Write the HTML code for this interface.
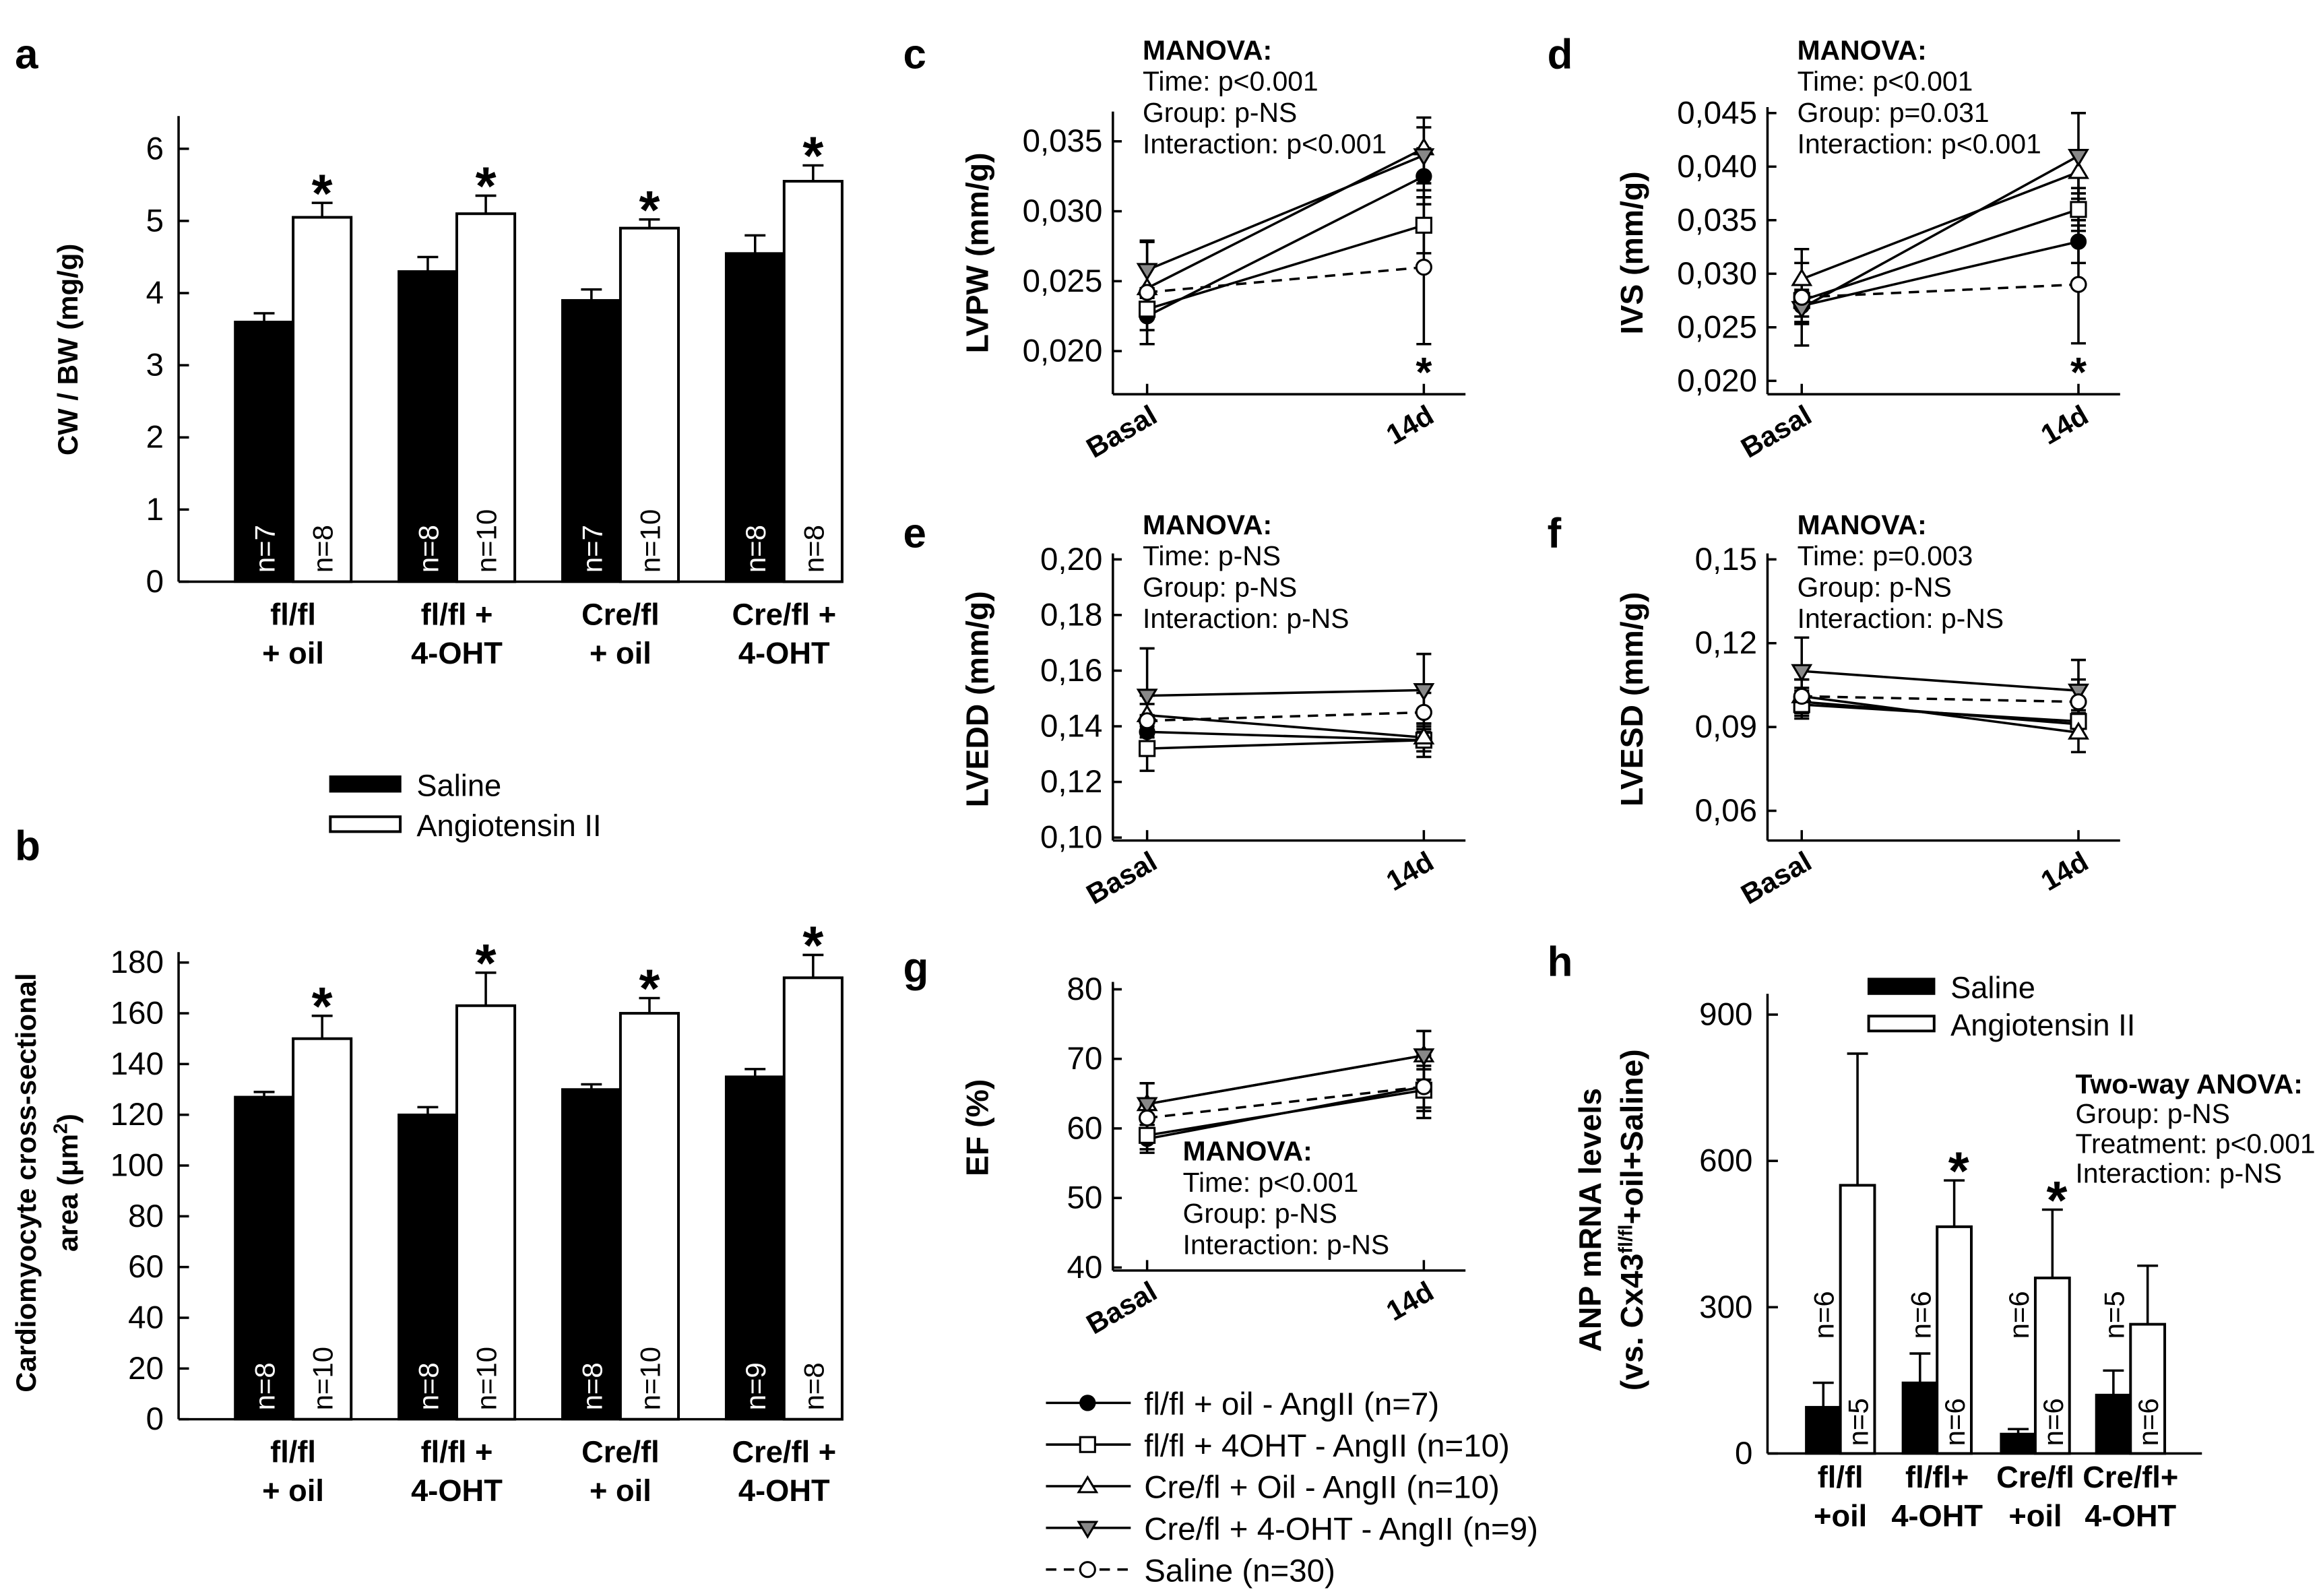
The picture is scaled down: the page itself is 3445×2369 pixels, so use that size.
<!DOCTYPE html>
<html><head><meta charset="utf-8"><style>
html,body{margin:0;padding:0;background:#fff}
svg{display:block}
text{font-family:"Liberation Sans",Arial,sans-serif;fill:#000}
.tk{font-size:19px}
.tk2{font-size:21.5px}
.tt{font-size:19px;font-weight:bold}
.tt2{font-size:21px;font-weight:bold}
.lt{font-size:18.5px}
.lg{font-size:21.5px}
.pl{font-size:28px;font-weight:bold}
</style></head><body>
<svg id="fig" xmlns="http://www.w3.org/2000/svg" width="3445" height="2369" viewBox="0 0 1560 1072.8">
<rect width="1560" height="1073" fill="#fff"/>
<g id="root"></g>
</svg>
<script>
// ---- data: panel a ----
const groupsA = ["fl/fl|+ oil","fl/fl +|4-OHT","Cre/fl|+ oil","Cre/fl +|4-OHT"];
const salineA = [3.6,4.3,3.9,4.55];
const salineAErr = [0.12,0.2,0.15,0.25];
const angA = [5.05,5.1,4.9,5.55];
const angAErr = [0.2,0.25,0.12,0.22];
const nSalA = ["n=7","n=8","n=7","n=8"];
const nAngA = ["n=8","n=10","n=10","n=8"];
const ticksA = [0,1,2,3,4,5,6];
// ---- panel b ----
const salineB = [127,120,130,135];
const salineBErr = [2,3,2,3];
const angB = [150,163,160,174];
const angBErr = [9,13,6,9];
const nSalB = ["n=8","n=8","n=8","n=9"];
const nAngB = ["n=10","n=10","n=10","n=8"];
const ticksB = [0,20,40,60,80,100,120,140,160,180];
// ---- line panels: [basal, 14d] per series: filled, square, triUp, triDown, open ----
const timeLabels = ["Basal","14d"];
const lvpw = [[0.0225,0.0325],[0.023,0.029],[0.0245,0.0345],[0.0258,0.034],[0.0242,0.026]];
const lvpwErr = [[0.002,0.002],[0.0015,0.002],[0.0015,0.0022],[0.002,0.002],[0.0037,0.0055]];
const lvpwTicks = [0.020,0.025,0.030,0.035];
const ivs = [[0.027,0.033],[0.0275,0.036],[0.0295,0.0395],[0.0268,0.041],[0.0278,0.029]];
const ivsErr = [[0.0015,0.002],[0.0015,0.002],[0.0015,0.002],[0.0015,0.004],[0.0045,0.0055]];
const ivsTicks = [0.020,0.025,0.030,0.035,0.040,0.045];
const lvedd = [[0.138,0.135],[0.132,0.135],[0.144,0.136],[0.151,0.153],[0.142,0.145]];
const lveddErr = [[0.006,0.004],[0.008,0.006],[0.007,0.005],[0.017,0.013],[0.006,0.007]];
const lveddTicks = [0.10,0.12,0.14,0.16,0.18,0.20];
const lvesd = [[0.099,0.091],[0.098,0.092],[0.101,0.088],[0.110,0.103],[0.101,0.099]];
const lvesdErr = [[0.005,0.005],[0.005,0.006],[0.006,0.007],[0.012,0.011],[0.006,0.008]];
const lvesdTicks = [0.06,0.09,0.12,0.15];
const ef = [[58.5,66],[59,65.5],[63.5,70.5],[63.5,70.5],[61.5,66]];
const efErr = [[2,3],[2,3],[3,3.5],[3,3.5],[2,4.5]];
const efTicks = [40,50,60,70,80];
// ---- panel h ----
const groupsH = ["fl/fl|+oil","fl/fl+|4-OHT","Cre/fl|+oil","Cre/fl+|4-OHT"];
const salineH = [95,145,40,120];
const salineHErr = [50,60,10,50];
const angH = [550,465,360,265];
const angHErr = [270,95,140,120];
const nSalH = ["n=6","n=6","n=6","n=5"];
const nAngH = ["n=5","n=6","n=6","n=6"];
const ticksH = [0,300,600,900];

const NS="http://www.w3.org/2000/svg";
const root=document.getElementById('root');
function el(tag,attrs,parent,txt){const e=document.createElementNS(NS,tag);for(const k in attrs)e.setAttribute(k,attrs[k]);if(txt!==undefined)e.textContent=txt;(parent||root).appendChild(e);return e;}
function line(x1,y1,x2,y2,p,dash){const e=el('line',{x1,y1,x2,y2,stroke:'#000','stroke-width':1.6},p);if(dash)e.setAttribute('stroke-dasharray',dash);return e;}
function fmt(v,d){return v.toFixed(d).replace('.',',');}

[["a",10,46],["b",10,578],["c",607,46],["d",1040,46],["e",607,368],["f",1040,368],["g",607,660],["h",1040,656]].forEach(p=>{
 const t=el('text',{x:p[1],y:p[2],class:'pl'},root,p[0]);
 
 
});

function barPanel(o){
 const g=el('g',{});
 
 
 const y=v=>o.y0-(v-o.ymin)/(o.ymax-o.ymin)*(o.y0-o.y1);
 line(o.ax,o.top,o.ax,o.y0,g);
 line(o.ax,o.y0,o.xend,o.y0,g);
 o.ticks.forEach(t=>{line(o.ax,y(t),o.ax+7,y(t),g);const tx=el('text',{x:o.ax-10,y:y(t)+7,'text-anchor':'end',class:o.tkc||'tk'},g,String(t));});
 o.centers.forEach((c,i)=>{
  const bs=el('rect',{x:c-o.bw,y:y(o.sal[i]),width:o.bw,height:o.y0-y(o.sal[i]),fill:'#000',stroke:'#000','stroke-width':1.6},g);
  
  
  line(c-o.bw/2,y(o.sal[i]),c-o.bw/2,y(o.sal[i]+o.salE[i]),g);
  line(c-o.bw/2-7,y(o.sal[i]+o.salE[i]),c-o.bw/2+7,y(o.sal[i]+o.salE[i]),g);
  const ba=el('rect',{x:c,y:y(o.ang[i]),width:o.bw,height:o.y0-y(o.ang[i]),fill:'#fff',stroke:'#000','stroke-width':1.8},g);
  
  
  line(c+o.bw/2,y(o.ang[i]),c+o.bw/2,y(o.ang[i]+o.angE[i]),g);
  line(c+o.bw/2-7,y(o.ang[i]+o.angE[i]),c+o.bw/2+7,y(o.ang[i]+o.angE[i]),g);
  if(o.star[i]){const s=el('text',{x:c+o.bw/2+(o.starDx||0),y:y(o.ang[i]+o.angE[i])-(o.starGap||4)+26,'text-anchor':'middle',style:'font-size:36px;font-weight:bold'},g,'*');}
  const nx1=c-o.bw/2+7,nx2=c+o.bw/2+7;
  const n1=el('text',{x:0,y:0,class:'tk',transform:`translate(${nx1},${o.nSalY}) rotate(-90)`,style:`fill:${o.nSalCol}`},g,o.nSal[i]);
  
  const n2=el('text',{x:0,y:0,class:'tk',transform:`translate(${nx2},${o.nAngY}) rotate(-90)`},g,o.nAng[i]);
  
  const parts=o.groups[i].split('|');
  parts.forEach((p,j)=>{const t=el('text',{x:c,y:o.labY+j*26,'text-anchor':'middle',class:'tt',style:'font-size:20.5px'},g,p);});
 });
 return g;
}

barPanel({name:'panel-a-chart',ax:120,top:78,y0:391,y1:100,ymin:0,ymax:6,xend:566,ticks:ticksA,centers:[197,307,417,527],bw:39,
 sal:salineA,salE:salineAErr,ang:angA,angE:angAErr,star:[1,1,1,1],nSal:nSalA,nAng:nAngA,nSalY:385,nAngY:385,nSalCol:'#fff',groups:groupsA,labY:420,starGap:20,tkc:'tk2'});
barPanel({name:'panel-b-chart',ax:120,top:640,y0:954,y1:647,ymin:0,ymax:180,xend:566,ticks:ticksB,centers:[197,307,417,527],bw:39,
 sal:salineB,salE:salineBErr,ang:angB,angE:angBErr,star:[1,1,1,1],nSal:nSalB,nAng:nAngB,nSalY:948,nAngY:948,nSalCol:'#fff',groups:groupsA,labY:983,starGap:20,tkc:'tk2'});
barPanel({name:'panel-h-chart',ax:1188,top:668,y0:977,y1:682,ymin:0,ymax:900,xend:1480,ticks:ticksH,centers:[1237,1302,1368,1432],bw:23,
 sal:salineH,salE:salineHErr,ang:angH,angE:angHErr,star:[0,1,1,0],nSal:nSalH,nAng:nAngH,nSalY:900,nAngY:972,nSalCol:'#000',groups:groupsH,labY:1000,starGap:20,starDx:3,tkc:'tk2'});

function vtext(x,y,s,name,cls){const t=el('text',{x:0,y:0,class:cls||'tt2','text-anchor':'middle',transform:`translate(${x},${y}) rotate(-90)`},root,s);return t;}
vtext(52,235,'CW / BW (mg/g)','y-axis-title-a','tt');
vtext(24,795,'Cardiomyocyte cross-sectional','y-axis-title-b','tt');
(function(){const t=el('text',{x:0,y:0,class:'tt','text-anchor':'middle',transform:'translate(52,795) rotate(-90)'},root);
 el('tspan',{},t,'area (μm');el('tspan',{dy:-7,style:'font-size:13px'},t,'2');el('tspan',{dy:7},t,')');})();
vtext(664,170,'LVPW (mm/g)','y-axis-title-c');
vtext(1104,170,'IVS (mm/g)','y-axis-title-d');
vtext(664,470,'LVEDD (mm/g)','y-axis-title-e');
vtext(1104,470,'LVESD (mm/g)','y-axis-title-f');
vtext(664,758,'EF (%)','y-axis-title-g');
vtext(1076,820,'ANP mRNA levels','y-axis-title-h');
(function(){const t=el('text',{x:0,y:0,class:'tt2','text-anchor':'middle',transform:'translate(1104,820) rotate(-90)'},root);
 el('tspan',{},t,'(vs. Cx43');el('tspan',{dy:-7,style:'font-size:13px'},t,'fl/fl');el('tspan',{dy:7},t,'+oil+Saline)');})();

function barLegend(x,y1,y2,w,h,name){
 const g=el('g',{});
 el('rect',{x,y:y1,width:w,height:h,fill:'#000',stroke:'#000','stroke-width':1.5},g);
 el('rect',{x,y:y2,width:w,height:h,fill:'#fff',stroke:'#000','stroke-width':1.8},g);
 el('text',{x:x+w+11,y:y1+h+3,class:'lt',style:'font-size:20.5px'},g,'Saline');
 el('text',{x:x+w+11,y:y2+h+3,class:'lt',style:'font-size:20.5px'},g,'Angiotensin II');
}
barLegend(222,522,549,47,10,'legend-a-b');
barLegend(1256,658,683,44,10,'legend-h');

function block(x,y,lines,dy,name){const g=el('g',{});
 lines.forEach((s,i)=>el('text',{x,y:y+i*dy,class:'lt',style:i==0?'font-weight:bold':''},g,s));}
block(768,40,['MANOVA:','Time: p<0.001','Group: p-NS','Interaction: p<0.001'],21,'stats-c');
block(1208,40,['MANOVA:','Time: p<0.001','Group: p=0.031','Interaction: p<0.001'],21,'stats-d');
block(768,359,['MANOVA:','Time: p-NS','Group: p-NS','Interaction: p-NS'],21,'stats-e');
block(1208,359,['MANOVA:','Time: p=0.003','Group: p-NS','Interaction: p-NS'],21,'stats-f');
block(795,780,['MANOVA:','Time: p<0.001','Group: p-NS','Interaction: p-NS'],21,'stats-g');
block(1395,735,['Two-way ANOVA:','Group: p-NS','Treatment: p<0.001','Interaction: p-NS'],20,'stats-h');

function marker(g,type,x,y){
 const r=5;
 if(type==0) el('circle',{cx:x,cy:y,r:r,fill:'#000',stroke:'#000'},g);
 else if(type==1) el('rect',{x:x-r,y:y-r,width:2*r,height:2*r,fill:'#fff',stroke:'#000','stroke-width':1.4},g);
 else if(type==2) el('polygon',{points:`${x},${y-6} ${x-6},${y+4} ${x+6},${y+4}`,fill:'#fff',stroke:'#000','stroke-width':1.4},g);
 else if(type==3) el('polygon',{points:`${x},${y+6} ${x-6},${y-4} ${x+6},${y-4}`,fill:'#888',stroke:'#000','stroke-width':1.4},g);
 else el('circle',{cx:x,cy:y,r:r,fill:'#fff',stroke:'#000','stroke-width':1.4},g);
}

function linePanel(o){
 const g=el('g',{});
 const y=v=>o.y0-(v-o.ymin)/(o.ymax-o.ymin)*(o.y0-o.y1);
 const xs=[o.ax+23,o.ax+209];
 line(o.ax,o.top,o.ax,o.bot,g);
 line(o.ax,o.bot,o.ax+237,o.bot,g);
 o.ticks.forEach(t=>{line(o.ax,y(t),o.ax+6,y(t),g);const tx=el('text',{x:o.ax-7,y:y(t)+7,'text-anchor':'end',class:'tk2'},g,o.dec==null?String(t):fmt(t,o.dec));});
 xs.forEach((x,i)=>{line(x,o.bot,x,o.bot-7,g);const t=el('text',{x:0,y:0,class:'tt','text-anchor':'end',transform:`translate(${x+8},${o.bot+18}) rotate(-30)`},g,timeLabels[i]);});
 o.data.forEach((s,k)=>{
  const sg=el('g',{},g);
  line(xs[0],y(s[0]),xs[1],y(s[1]),sg,k==4?'7,5':null);
  s.forEach((v,i)=>{const e=o.err[k][i];line(xs[i],y(v-e),xs[i],y(v+e),sg);line(xs[i]-5,y(v+e),xs[i]+5,y(v+e),sg);line(xs[i]-5,y(v-e),xs[i]+5,y(v-e),sg);});
 });
 o.data.forEach((s,k)=>s.forEach((v,i)=>marker(g,k,xs[i],y(v))));
 if(o.star){const s=el('text',{x:xs[1],y:o.starY,'text-anchor':'middle',style:'font-size:28px;font-weight:bold'},g,'*');}
}
linePanel({name:'panel-c-chart',ax:748,top:75,bot:265,y0:236,y1:95,ymin:0.020,ymax:0.035,ticks:lvpwTicks,dec:3,data:lvpw,err:lvpwErr,star:1,starY:260});
linePanel({name:'panel-d-chart',ax:1188,top:72,bot:265,y0:256,y1:76,ymin:0.020,ymax:0.045,ticks:ivsTicks,dec:3,data:ivs,err:ivsErr,star:1,starY:260});
linePanel({name:'panel-e-chart',ax:748,top:372,bot:565,y0:563,y1:376,ymin:0.10,ymax:0.20,ticks:lveddTicks,dec:2,data:lvedd,err:lveddErr});
linePanel({name:'panel-f-chart',ax:1188,top:372,bot:565,y0:545,y1:376,ymin:0.06,ymax:0.15,ticks:lvesdTicks,dec:2,data:lvesd,err:lvesdErr});
linePanel({name:'panel-g-chart',ax:748,top:660,bot:854,y0:852,y1:665,ymin:40,ymax:80,ticks:efTicks,dec:null,data:ef,err:efErr});

const legLabels=["fl/fl + oil - AngII (n=7)","fl/fl + 4OHT - AngII (n=10)","Cre/fl + Oil - AngII (n=10)","Cre/fl + 4-OHT - AngII (n=9)","Saline (n=30)"];
const lg=el('g',{});
legLabels.forEach((s,k)=>{const yy=943+k*28;line(703,yy,760,yy,lg,k==4?'7,5':null);marker(lg,k,731,yy);el('text',{x:769,y:yy+8,class:'lg'},lg,s);});
</script>
</body></html>
